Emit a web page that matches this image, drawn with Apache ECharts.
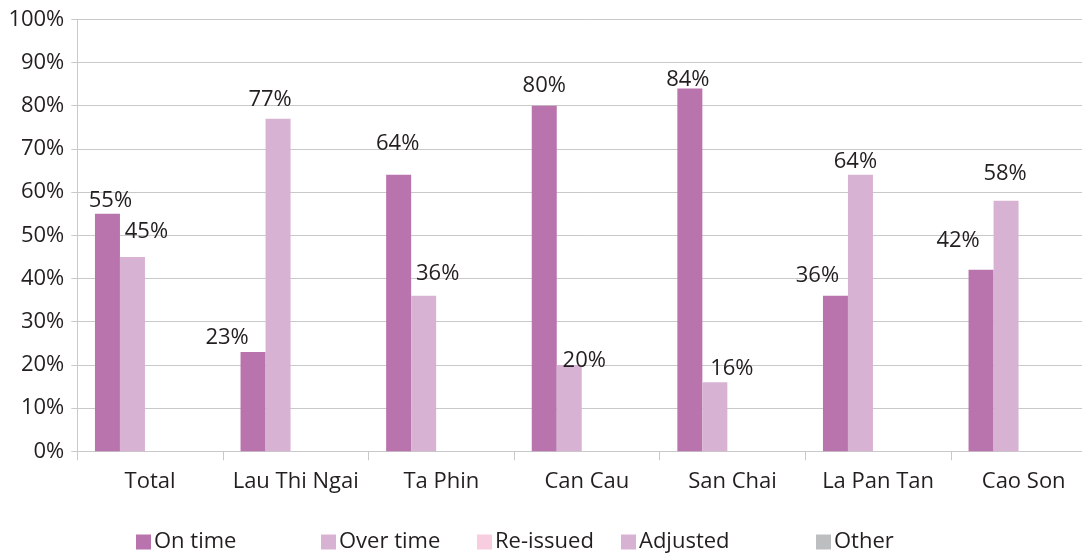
<!DOCTYPE html>
<html>
<head>
<meta charset="utf-8">
<script src="https://cdn.jsdelivr.net/npm/echarts@6/dist/echarts.min.js"></script>
<style>
html,body{margin:0;padding:0;background:#fff;overflow:hidden;width:1082px;height:553px;}
#chart{width:1105px;height:553px;}
</style>
</head>
<body>
<div id="chart"></div>
<script>
// ---- data ----
const categories = ['Total', 'Lau Thi Ngai', 'Ta Phin', 'Can Cau', 'San Chai', 'La Pan Tan', 'Cao Son'];
const onTime   = [55, 23, 64, 80, 84, 36, 42];
const overTime = [45, 77, 36, 20, 16, 64, 58];
const reIssued = [0, 0, 0, 0, 0, 0, 0];
const adjusted = [0, 0, 0, 0, 0, 0, 0];
const other    = [0, 0, 0, 0, 0, 0, 0];
const seriesNames = ['On time', 'Over time', 'Re-issued', 'Adjusted', 'Other'];
const yTicks = [0, 10, 20, 30, 40, 50, 60, 70, 80, 90, 100];

// ---- layout / style (not data) ----
const FONT = '"Open Sans", "Noto Sans", sans-serif';
const TXT = '#231f20';
const GRIDC = '#c9c9c9';
const colors = ['#b973ad', '#d8b2d3', '#f9cde0', '#d8b2d3', '#bcbec0'];
const labelShiftOnTime   = [[3, 0], [-26, -1], [-1, -18], [0, -7], [-2, 4], [-18, -7], [-23, -16]];
const labelShiftOverTime = [[14, -12], [-8, -6], [14, -9], [15, 9], [17, 0], [-5, 0], [-1, -14]];
const legendLefts = [136, 321, 477, 621, 816];

const chart = echarts.init(document.getElementById('chart'), null, {renderer: 'canvas'});

function withLabels(values, shifts) {
  return values.map((v, i) => ({
    value: v,
    label: {offset: shifts[i]}
  }));
}

const valueSeries = [onTime, overTime, reIssued, adjusted, other];
const series = valueSeries.map((vals, k) => {
  let data = vals;
  let showLabel = false;
  if (k === 0) { data = withLabels(vals, labelShiftOnTime); showLabel = true; }
  if (k === 1) { data = withLabels(vals, labelShiftOverTime); showLabel = true; }
  return {
    name: seriesNames[k],
    type: 'bar',
    xAxisIndex: 1,
    yAxisIndex: 1,
    barWidth: 25,
    barGap: '0%',
    itemStyle: {color: colors[k]},
    data: data,
    label: {
      show: showLabel,
      position: 'top',
      distance: 2,
      formatter: '{c}%',
      fontFamily: FONT,
      fontSize: 22,
      color: TXT
    }
  };
});

const legends = seriesNames.map((n, k) => ({
  data: [n],
  left: legendLefts[k],
  top: 531,
  itemWidth: 15,
  itemHeight: 15,
  icon: 'rect',
  itemGap: 0,
  padding: 0,
  textStyle: {fontFamily: FONT, fontSize: 22, color: TXT, padding: [0, 0, 0, -2]},
  selectedMode: false
}));

const option = {
  animation: false,
  backgroundColor: '#fff',
  grid: [
    {left: 77.3, right: 8.5, top: 19.3, bottom: 101.7, containLabel: false},
    {left: 84.65, right: 1.15, top: 19.3, bottom: 101.7, containLabel: false}
  ],
  legend: legends,
  xAxis: [
    {
      type: 'category',
      gridIndex: 0,
      data: categories,
      boundaryGap: true,
      axisLine: {show: true, lineStyle: {color: GRIDC, width: 1}},
      axisTick: {show: true, length: 9, lineStyle: {color: GRIDC}},
      axisLabel: {fontFamily: FONT, fontSize: 22, color: TXT, margin: 19, interval: 0}
    },
    {
      type: 'category',
      gridIndex: 1,
      data: categories,
      show: false
    }
  ],
  yAxis: [
    {
      type: 'value',
      gridIndex: 0,
      min: yTicks[0],
      max: yTicks[yTicks.length - 1],
      interval: yTicks[1] - yTicks[0],
      axisLine: {show: true, lineStyle: {color: GRIDC, width: 1}},
      axisTick: {show: true, length: 6, lineStyle: {color: GRIDC}},
      splitLine: {show: true, lineStyle: {color: GRIDC, width: 1}},
      axisLabel: {fontFamily: FONT, fontSize: 22, color: TXT, margin: 13, formatter: '{value}%'}
    },
    {
      type: 'value',
      gridIndex: 1,
      min: yTicks[0],
      max: yTicks[yTicks.length - 1],
      show: false
    }
  ],
  series: series
};

chart.setOption(option);
</script>
</body>
</html>
